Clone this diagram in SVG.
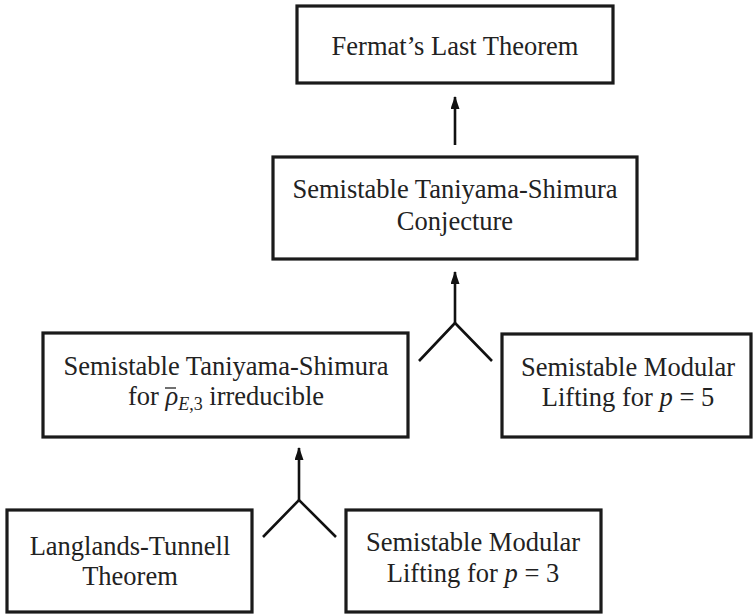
<svg xmlns="http://www.w3.org/2000/svg" width="753" height="615" viewBox="0 0 753 615">
<style>
.box{fill:#fff;stroke:#1a1a1a;stroke-width:3.2}
.t{font-family:"Liberation Serif","Times New Roman",serif;font-size:26.5px;fill:#222;text-anchor:middle}
.i{font-style:italic}
.c{fill:none;stroke:#111;stroke-width:2.6}
.bar{stroke:#222;stroke-width:1.3}
</style>
<defs>
<marker id="ah" viewBox="0 0 13 9" refX="12" refY="4.5" markerWidth="13" markerHeight="9" orient="auto" markerUnits="userSpaceOnUse">
<path d="M0,0 L13,4.5 L0,9 z" fill="#111"/>
</marker>
</defs>
<g id="connectors">
<line class="c" x1="455" y1="145" x2="455" y2="97" marker-end="url(#ah)"/>
<line class="c" x1="455" y1="323" x2="455" y2="272" marker-end="url(#ah)"/>
<polyline class="c" points="419,361 455,323 492,361"/>
<line class="c" x1="299" y1="500" x2="299" y2="448" marker-end="url(#ah)"/>
<polyline class="c" points="263,537 299,500 336,537"/>
</g>
<g id="flt">
<rect class="box" x="297" y="6" width="316" height="77"/>
<text class="t" x="455" y="55">Fermat’s Last Theorem</text>
</g>
<g id="stsc">
<rect class="box" x="273" y="157" width="364" height="102"/>
<text class="t" x="455" y="198">Semistable Taniyama-Shimura</text>
<text class="t" x="455" y="230">Conjecture</text>
</g>
<g id="stsi">
<rect class="box" x="43" y="333" width="365" height="104"/>
<text class="t" x="226" y="375">Semistable Taniyama-Shimura</text>
<text class="t" x="226" y="405">for <tspan class="i">ρ</tspan><tspan class="i" font-size="18" dy="5">E</tspan><tspan font-size="18">,3</tspan><tspan dy="-5"> irreducible</tspan></text>
<line class="bar" x1="165" y1="388" x2="176" y2="388"/>
</g>
<g id="sml5">
<rect class="box" x="502" y="334" width="249" height="103"/>
<text class="t" x="628" y="376">Semistable Modular</text>
<text class="t" x="628" y="406">Lifting for <tspan class="i">p</tspan> = 5</text>
</g>
<g id="lt">
<rect class="box" x="7" y="510" width="245" height="102"/>
<text class="t" x="130" y="555">Langlands-Tunnell</text>
<text class="t" x="130" y="585">Theorem</text>
</g>
<g id="sml3">
<rect class="box" x="346" y="510" width="255" height="102"/>
<text class="t" x="473" y="551">Semistable Modular</text>
<text class="t" x="473" y="582">Lifting for <tspan class="i">p</tspan> = 3</text>
</g>
</svg>
